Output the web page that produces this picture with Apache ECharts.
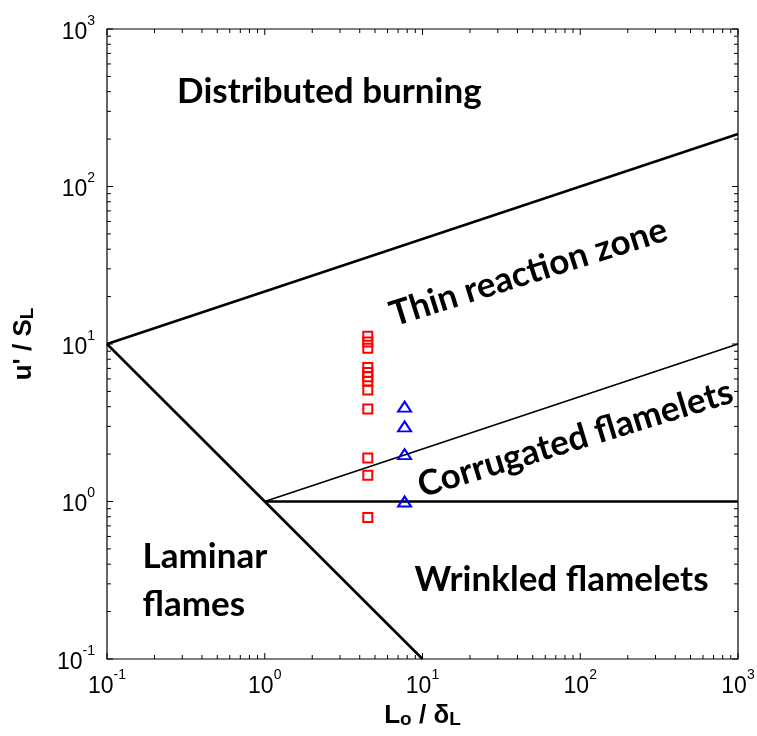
<!DOCTYPE html>
<html>
<head>
<meta charset="utf-8">
<script src="https://cdn.jsdelivr.net/npm/echarts@6/dist/echarts.min.js"></script>
<style>
  html, body { margin: 0; padding: 0; background: #ffffff; }
  #chart { width: 757px; height: 736px; }
</style>
</head>
<body>
<div id="chart"></div>
<script>
// Regime boundaries of the premixed combustion diagram (u'/S_L vs L_o/delta_L)
const ka100Line = [[0.1, 10], [1000, 215.4]];   // Ka = 100
const ka1Line   = [[1, 1], [1000, 10]];         // Ka = 1
const re1Line   = [[0.1, 10], [10, 0.1]];       // Re = 1
const unityLine = [[1, 1], [1000, 1]];          // u'/S_L = 1

// Measured operating points
const redX = 4.5;
const redY = [0.79, 1.47, 1.89, 3.87, 5.1, 5.8, 6.2, 6.6, 7.1, 9.4, 10.3, 11.2];
const blueX = 7.7;
const blueY = [1, 2, 3, 4];

// Axis decades and regime names
const decades = [0.1, 1, 10, 100, 1000];
const minorMultipliers = [2, 3, 4, 5, 6, 7, 8, 9];
const regionNames = ['Distributed burning', 'Thin reaction zone', 'Corrugated flamelets', 'Wrinkled flamelets', 'Laminar\nflames'];

// Where each regime name sits (data coordinates) and how it is turned
const regionPlacement = [
  { at: [2.57, 400], rotate: 0, align: 'center' },
  { at: [47, 28.5], rotate: 17.5, align: 'center' },
  { at: [93, 2.5], rotate: 17, align: 'center' },
  { at: [76, 0.317], rotate: 0, align: 'center' },
  { at: [0.168, 0.313], rotate: 0, align: 'left' }
];

const tickValues = [];
decades.slice(0, -1).forEach(d => {
  tickValues.push({ v: d, major: true });
  minorMultipliers.forEach(m => tickValues.push({ v: +(d * m).toPrecision(3), major: false }));
});
tickValues.push({ v: decades[decades.length - 1], major: true });

const FONT_REGION = 'Lato';
const TICK_RICH = {
  base: { fontFamily: 'Liberation Sans', fontSize: 23, color: '#000', lineHeight: 30, verticalAlign: 'bottom' },
  sup: { fontFamily: 'Liberation Sans', fontSize: 14, color: '#000', lineHeight: 30, verticalAlign: 'top' }
};
const NAME_RICH = {
  b: { fontFamily: 'Liberation Sans', fontWeight: 'bold', fontSize: 26, color: '#000', lineHeight: 30, verticalAlign: 'bottom' },
  s: { fontFamily: 'Liberation Sans', fontWeight: 'bold', fontSize: 19, color: '#000', lineHeight: 11, verticalAlign: 'bottom' }
};
function powLabel(v) {
  const e = Math.round(Math.log10(v));
  return '{base|10}{sup|' + e + '}';
}

function tickRenderer(isX) {
  return function (params, api) {
    const cs = params.coordSys;
    const item = tickValues[params.dataIndex];
    const len = item.major ? 6 : 4;
    const p = isX ? api.coord([item.v, 1]) : api.coord([1, item.v]);
    const style = { stroke: '#000', lineWidth: 1 };
    const children = [];
    if (isX) {
      children.push({ type: 'line', shape: { x1: p[0], y1: cs.y + cs.height, x2: p[0], y2: cs.y + cs.height - len }, style });
      children.push({ type: 'line', shape: { x1: p[0], y1: cs.y, x2: p[0], y2: cs.y + len }, style });
    } else {
      children.push({ type: 'line', shape: { x1: cs.x, y1: p[1], x2: cs.x + len, y2: p[1] }, style });
      children.push({ type: 'line', shape: { x1: cs.x + cs.width, y1: p[1], x2: cs.x + cs.width - len, y2: p[1] }, style });
    }
    return { type: 'group', children };
  };
}

function boundary(data, width) {
  return {
    type: 'line', data, symbol: 'none', silent: true, z: 3,
    lineStyle: { color: '#000', width }
  };
}

const chart = echarts.init(document.getElementById('chart'), null, { renderer: 'canvas' });
chart.setOption({
  animation: false,
  backgroundColor: '#ffffff',
  grid: {
    left: 107, right: 19, top: 29, bottom: 77,
    containLabel: false, outerBoundsMode: 'none',
    show: true, borderColor: '#000', borderWidth: 1.2, backgroundColor: 'transparent'
  },
  xAxis: {
    type: 'log', logBase: 10, min: 0.1, max: 1000,
    axisLine: { show: false }, axisTick: { show: false }, splitLine: { show: false },
    axisLabel: { formatter: powLabel, rich: TICK_RICH, margin: 9 },
    name: '{b|L}{s|o}{b| / δ}{s|L}',
    nameLocation: 'middle', nameGap: 40,
    nameTextStyle: { rich: NAME_RICH }
  },
  yAxis: {
    type: 'log', logBase: 10, min: 0.1, max: 1000,
    axisLine: { show: false }, axisTick: { show: false }, splitLine: { show: false },
    axisLabel: { formatter: powLabel, rich: TICK_RICH, margin: 12 },
    name: '{b|u\' / S}{s|L}',
    nameLocation: 'middle', nameGap: 70,
    nameTextStyle: { rich: NAME_RICH }
  },
  series: [
    boundary(ka100Line, 2.6),
    boundary(ka1Line, 1.8),
    boundary(re1Line, 2.6),
    boundary(unityLine, 2.6),
    {
      type: 'scatter', z: 4, silent: true,
      data: redY.map(y => [redX, y]),
      symbol: 'rect', symbolSize: 9,
      itemStyle: { color: 'rgba(0,0,0,0)', borderColor: '#ff0000', borderWidth: 2, opacity: 1 }
    },
    {
      type: 'scatter', z: 4, silent: true,
      data: blueY.map(y => [blueX, y]),
      symbol: 'triangle', symbolSize: [13, 10],
      itemStyle: { color: 'rgba(0,0,0,0)', borderColor: '#0000ff', borderWidth: 2, opacity: 1 }
    },
    {
      type: 'custom', silent: true, z: 5, clip: false,
      data: tickValues.map(t => [t.v, 1]),
      renderItem: tickRenderer(true)
    },
    {
      type: 'custom', silent: true, z: 5, clip: false,
      data: tickValues.map(t => [1, t.v]),
      renderItem: tickRenderer(false)
    },
    {
      type: 'scatter', silent: true, z: 6, symbolSize: 0,
      itemStyle: { opacity: 1 },
      data: regionPlacement.map((p, i) => ({
        value: p.at,
        label: {
          show: true, position: 'inside', formatter: regionNames[i],
          rotate: p.rotate, align: p.align, verticalAlign: 'middle',
          fontFamily: FONT_REGION, fontWeight: 'bold', fontSize: 35, color: '#000',
          textBorderWidth: 0, lineHeight: 48
        }
      }))
    }
  ]
});
</script>
</body>
</html>
